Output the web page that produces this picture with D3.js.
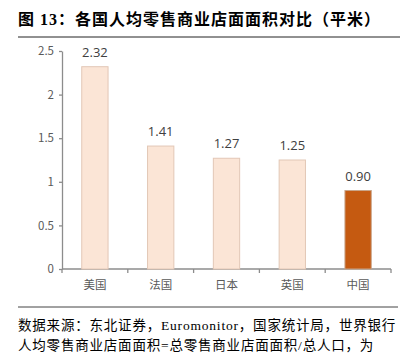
<!DOCTYPE html>
<html lang="zh">
<head>
    <meta charset="utf-8">
    <title>各国人均零售商业店面面积对比</title>
    <script src="https://d3js.org/d3.v7.min.js"></script>
    <style>
        body { margin: 0; background: #fff; }
        svg { display: block; }
    </style>
</head>
<body>
<div id="chart"></div>
<script>
    // data
    const countries = ["美国", "法国", "日本", "英国", "中国"];
    const areaPerCapita = [2.32, 1.41, 1.27, 1.25, 0.90];
    const yTicks = [0, 0.5, 1, 1.5, 2, 2.5];
    const yTickLabels = ["0", "0.5", "1", "1.5", "2", "2.5"];

    const W = 410, H = 354;
    const margin = {top: 51, right: 19, bottom: 85, left: 62};

    const svg = d3.select("#chart")
        .append("svg")
        .attr("width", W)
        .attr("height", H);

    // title
    svg.append("text")
        .attr("x", 18)
        .attr("y", 25)
        .attr("font-family", "'Liberation Serif', 'Noto Sans CJK SC', serif")
        .attr("font-weight", "bold")
        .attr("font-size", 16)
        .attr("letter-spacing", 1)
        .attr("fill", "#000")
        .text("图  13：各国人均零售商业店面面积对比（平米）");

    svg.append("line")
        .attr("x1", 18).attr("x2", 400)
        .attr("y1", 37).attr("y2", 37)
        .attr("stroke", "#222").attr("stroke-width", 1);

    const x = d3.scaleBand()
        .domain(countries)
        .range([margin.left, W - margin.right])
        .paddingInner(0.6)
        .paddingOuter(0.3);

    const y = d3.scaleLinear()
        .domain([0, 2.5])
        .range([H - margin.bottom, margin.top]);

    // y axis
    const yAxis = svg.append("g")
        .attr("transform", `translate(${margin.left},0)`)
        .call(d3.axisLeft(y)
            .tickValues(yTicks)
            .tickFormat((d, i) => yTickLabels[i])
            .tickSize(3)
            .tickSizeOuter(0)
            .tickPadding(5));

    // x axis: ticks at category boundaries
    const xAxis = svg.append("g")
        .attr("transform", `translate(0,${H - margin.bottom})`)
        .call(d3.axisBottom(x).tickSize(0).tickPadding(12));

    const step = x.step();
    const bounds = d3.range(countries.length + 1).map(i => margin.left + i * step);
    xAxis.selectAll(".bound")
        .data(bounds)
        .join("line")
        .attr("class", "bound")
        .attr("x1", d => d).attr("x2", d => d)
        .attr("y1", 0).attr("y2", 4);

    [yAxis, xAxis].forEach(g => {
        g.selectAll("path, line").attr("stroke", "#8c8c8c").attr("stroke-width", 1.3);
        g.selectAll("text")
            .attr("fill", "#595959")
            .attr("font-size", 11.5)
            .attr("font-family", "'Noto Sans CJK SC', 'Open Sans', sans-serif");
    });
    xAxis.select(".domain").attr("d", `M${margin.left},0H${W - margin.right}`);

    // bars
    svg.append("g")
        .selectAll("rect")
        .data(countries)
        .join("rect")
        .attr("x", d => x(d))
        .attr("width", x.bandwidth())
        .attr("y", (d, i) => y(areaPerCapita[i]))
        .attr("height", (d, i) => y(0) - y(areaPerCapita[i]))
        .attr("fill", d => d === "中国" ? "#C55A11" : "#FBE5D6")
        .attr("stroke", d => d === "中国" ? "#c9a58a" : "#e2c7b6")
        .attr("stroke-width", 1);

    // value labels
    svg.append("g")
        .selectAll("text")
        .data(countries)
        .join("text")
        .attr("x", d => x(d) + x.bandwidth() / 2)
        .attr("y", (d, i) => y(areaPerCapita[i]) - 10)
        .attr("text-anchor", "middle")
        .attr("font-family", "'Open Sans', 'Noto Sans', sans-serif")
        .attr("font-size", 13)
        .attr("fill", "#404040")
        .text((d, i) => areaPerCapita[i].toFixed(2));

    // source footer
    svg.append("line")
        .attr("x1", 18).attr("x2", 398)
        .attr("y1", 307).attr("y2", 307)
        .attr("stroke", "#444").attr("stroke-width", 1);

    const foot = svg.append("g")
        .attr("font-family", "'Liberation Serif', 'Noto Sans CJK SC', serif")
        .attr("font-size", 13.5)
        .attr("letter-spacing", 0.8)
        .attr("fill", "#000");
    foot.append("text").attr("x", 18).attr("y", 330)
        .text("数据来源：东北证券，Euromonitor，国家统计局，世界银行");
    foot.append("text").attr("x", 18).attr("y", 350)
        .text("人均零售商业店面面积=总零售商业店面面积/总人口，为");
</script>
</body>
</html>
